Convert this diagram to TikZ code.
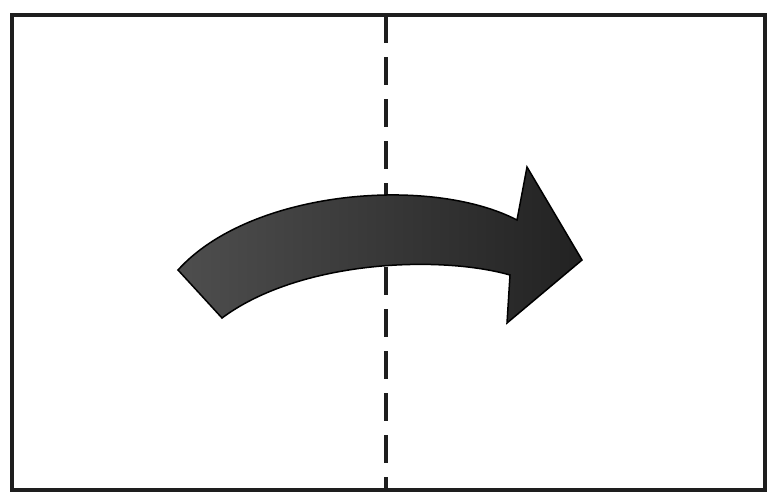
\documentclass[tikz,border=0pt]{standalone}
\usepackage{tikz}
\usetikzlibrary{calc}
\usepackage{xcolor}
\definecolor{arrowlight}{RGB}{78,78,78}
\definecolor{arrowdark}{RGB}{34,34,34}
\definecolor{frameink}{RGB}{30,30,30}

\begin{document}
\begin{tikzpicture}
  \begin{scope}[x=1pt, y=-1pt]
    % Canvas
    \fill[white] (0,0) rectangle (768,493);
    \useasboundingbox (0,0) rectangle (768,493);
    % Frame
    \draw[frameink, line width=3.5pt] (12,15) rectangle (765,490);
    % Divider
    \draw[frameink, line width=4pt, dash pattern=on 28pt off 14pt] (386,15) -- (386,490);
    % Arrow: curved shaft with head
    \draw[black, line width=1.5pt, line join=miter, left color=arrowlight, right color=arrowdark]
      (178,270) .. controls (250,190) and (430,175) .. (517,220)
      -- (527,167) -- (582,260) -- (507,323) -- (510,275)
      .. controls (440,255) and (300,260) .. (222,318)
      -- cycle;
  \end{scope}
\end{tikzpicture}
\end{document}
